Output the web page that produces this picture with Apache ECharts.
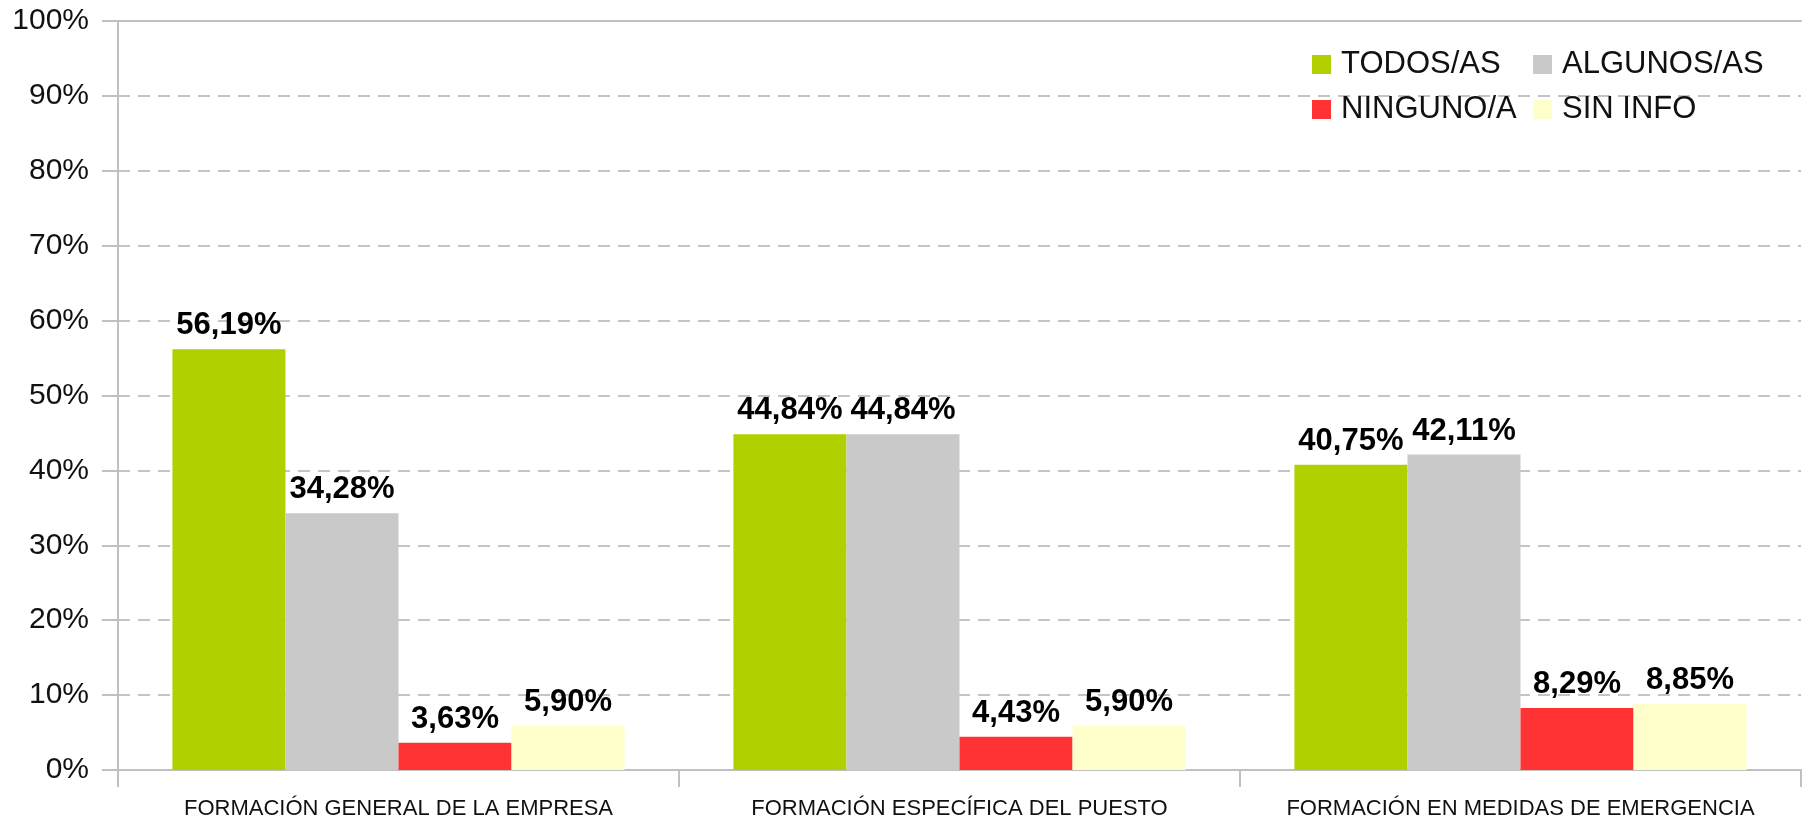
<!DOCTYPE html>
<html>
<head>
<meta charset="utf-8">
<script src="https://cdn.jsdelivr.net/npm/echarts@6/dist/echarts.min.js"></script>
<style>html,body{margin:0;padding:0;background:#fff}#c{width:1802px;height:820px}</style>
</head>
<body>
<div id="c"></div>
<script>
const categories = ['FORMACIÓN GENERAL DE LA EMPRESA', 'FORMACIÓN ESPECÍFICA DEL PUESTO', 'FORMACIÓN EN MEDIDAS DE EMERGENCIA'];
const todos = [56.19, 44.84, 40.75];
const algunos = [34.28, 44.84, 42.11];
const ninguno = [3.63, 4.43, 8.29];
const sinInfo = [5.90, 5.90, 8.85];
const yTicks = [0, 10, 20, 30, 40, 50, 60, 70, 80, 90, 100];

const FONT = '"Liberation Sans", Arial, sans-serif';
const fmt = p => p.value.toFixed(2).replace('.', ',') + '%';
const label = {
  show: true, position: 'top', distance: 8, formatter: fmt,
  fontFamily: FONT, fontWeight: 'bold', fontSize: 31, color: '#000'
};
function mk(name, data, color) {
  return { name, type: 'bar', data, barGap: '0%', barCategoryGap: '19.4%',
    itemStyle: { color }, label, xAxisIndex: 0, yAxisIndex: 0 };
}
const chart = echarts.init(document.getElementById('c'), null, { renderer: 'canvas' });
chart.setOption({
  animation: false,
  backgroundColor: '#fff',
  grid: { left: 118, right: 1, top: 21, bottom: 49, containLabel: false },
  legend: [
    { data: ['TODOS/AS', 'NINGUNO/A'], orient: 'vertical', left: 1307, top: 44,
      itemWidth: 19, itemHeight: 19, itemGap: 14, icon: 'rect',
      textStyle: { fontFamily: FONT, fontSize: 31, color: '#111', padding: [0, 0, 0, 5] } },
    { data: ['ALGUNOS/AS', 'SIN INFO'], orient: 'vertical', left: 1528, top: 44,
      itemWidth: 19, itemHeight: 19, itemGap: 14, icon: 'rect',
      textStyle: { fontFamily: FONT, fontSize: 31, color: '#111', padding: [0, 0, 0, 5] } }
  ],
  xAxis: [
    { type: 'category', data: categories, position: 'bottom',
      axisLine: { show: true, lineStyle: { color: '#c0c0c0', width: 2 } },
      axisTick: { show: true, interval: 0, length: 17, lineStyle: { color: '#c0c0c0', width: 2 } },
      axisLabel: { interval: 0, fontFamily: FONT, fontSize: 22, color: '#111', margin: 28 } },
    { type: 'category', data: categories, position: 'top',
      axisLine: { show: true, lineStyle: { color: '#c0c0c0', width: 2 } },
      axisTick: { show: false }, axisLabel: { show: false } }
  ],
  yAxis: {
    type: 'value', min: 0, max: 100, interval: 10,
    axisLine: { show: true, lineStyle: { color: '#c0c0c0', width: 2 } },
    axisTick: { show: true, length: 16, lineStyle: { color: '#c0c0c0', width: 2 } },
    axisLabel: { fontFamily: FONT, fontSize: 30, color: '#111', margin: 29,
      formatter: v => (yTicks.includes(v) ? v + '%' : '') },
    splitLine: { show: true, lineStyle: { color: '#c4c4c4', width: 2, type: [12, 8] } }
  },
  series: [
    mk('TODOS/AS', todos, '#b2d000'),
    mk('ALGUNOS/AS', algunos, '#c9c9c9'),
    mk('NINGUNO/A', ninguno, '#ff3333'),
    mk('SIN INFO', sinInfo, '#ffffcc')
  ]
});
</script>
</body>
</html>
